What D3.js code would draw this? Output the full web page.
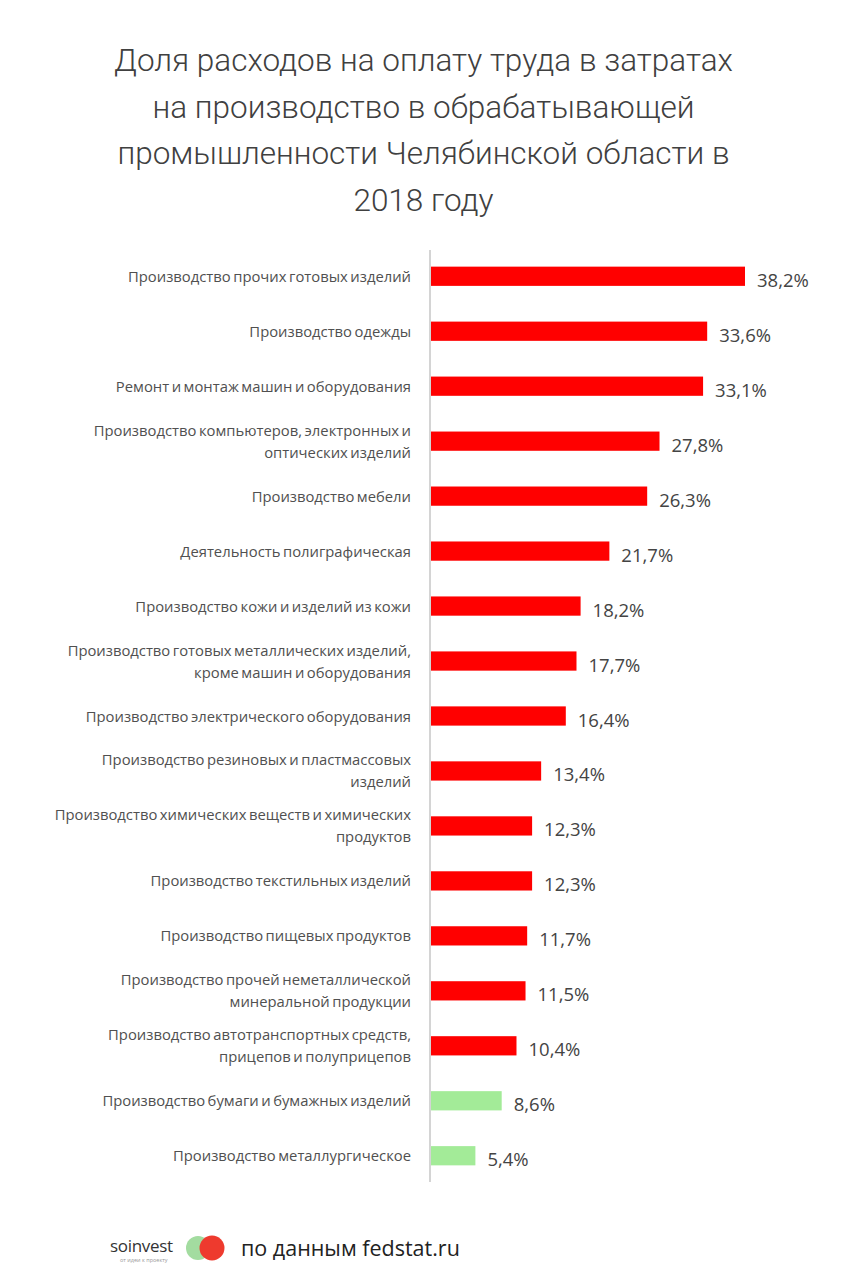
<!DOCTYPE html>
<html><head><meta charset="utf-8">
<script src="https://cdn.jsdelivr.net/npm/d3@7"></script>
<style>body{margin:0;background:#fff}svg{display:block}</style>
</head><body>
<script>
const categories = [
  ["Производство прочих готовых изделий"],
  ["Производство одежды"],
  ["Ремонт и монтаж машин и оборудования"],
  ["Производство компьютеров, электронных и","оптических изделий"],
  ["Производство мебели"],
  ["Деятельность полиграфическая"],
  ["Производство кожи и изделий из кожи"],
  ["Производство готовых металлических изделий,","кроме машин и оборудования"],
  ["Производство электрического оборудования"],
  ["Производство резиновых и пластмассовых","изделий"],
  ["Производство химических веществ и химических","продуктов"],
  ["Производство текстильных изделий"],
  ["Производство пищевых продуктов"],
  ["Производство прочей неметаллической","минеральной продукции"],
  ["Производство автотранспортных средств,","прицепов и полуприцепов"],
  ["Производство бумаги и бумажных изделий"],
  ["Производство металлургическое"]
];
const values = [38.2,33.6,33.1,27.8,26.3,21.7,18.2,17.7,16.4,13.4,12.3,12.3,11.7,11.5,10.4,8.6,5.4];
const groups = ["high","high","high","high","high","high","high","high","high","high","high","high","high","high","high","low","low"];
const titleLines = ["Доля расходов на оплату труда в затратах","на производство в обрабатывающей","промышленности Челябинской области в","2018 году"];
const colors = {high:"#ff0000", low:"#a3eb98"};

const W=847,H=1280;
const svg=d3.select("body").append("svg").attr("width",W).attr("height",H);
const font="Roboto, sans-serif";
const font2="'Open Sans', sans-serif";

svg.selectAll("text.title").data(titleLines).join("text")
  .attr("x",W/2).attr("y",(d,i)=>71+i*46.5)
  .attr("text-anchor","middle").attr("font-family",font).attr("font-size",31.5)
  .attr("font-weight",300).attr("fill","#404040").text(d=>d);

const x0=431;
const x=d3.scaleLinear().domain([0,38.2]).range([x0,745]);
const y=d3.scaleBand().domain(d3.range(values.length)).range([248.5,1183.5]).paddingInner(0.65).paddingOuter(0.33);

svg.append("line").attr("x1",430).attr("x2",430).attr("y1",250).attr("y2",1182)
  .attr("stroke","#d4d4d4").attr("stroke-width",2);

const g=svg.append("g");
g.selectAll("rect").data(values).join("rect")
  .attr("x",x0).attr("y",(d,i)=>y(i)).attr("height",y.bandwidth())
  .attr("width",d=>x(d)-x0).attr("fill",(d,i)=>colors[groups[i]]);

g.selectAll("text.val").data(values).join("text")
  .attr("x",d=>x(d)+12).attr("y",(d,i)=>y(i)+y.bandwidth()/2+10.5)
  .attr("font-family",font2).attr("font-size",18.5).attr("fill","#444")
  .text(d=>d.toFixed(1).replace(".",",")+"%");

categories.forEach((lines,i)=>{
  const cy=y(i)+y.bandwidth()/2;
  const n=lines.length;
  lines.forEach((t,j)=>{
    svg.append("text").attr("x",411).attr("y",cy+5.5+(j-(n-1)/2)*22)
      .attr("text-anchor","end").attr("font-family",font2).attr("font-size",14.8)
      .attr("fill","#505050").attr("word-spacing",-1.3).text(t);
  });
});

// footer
svg.append("text").attr("x",110).attr("y",1252).attr("font-family",font2).attr("font-size",17)
  .attr("fill","#333").attr("letter-spacing",-0.3).text("soinvest");
svg.append("text").attr("x",120).attr("y",1262).attr("font-family",font2).attr("font-size",5.5)
  .attr("fill","#999").text("от идеи к проекту");
svg.append("circle").attr("cx",198).attr("cy",1248).attr("r",12).attr("fill","#a3dca0");
svg.append("circle").attr("cx",212).attr("cy",1248).attr("r",12.5).attr("fill","#ee3a2e");
svg.append("text").attr("x",241).attr("y",1256).attr("font-family",font2).attr("font-size",21.5)
  .attr("fill","#222").text("по данным fedstat.ru");
</script>
</body></html>
